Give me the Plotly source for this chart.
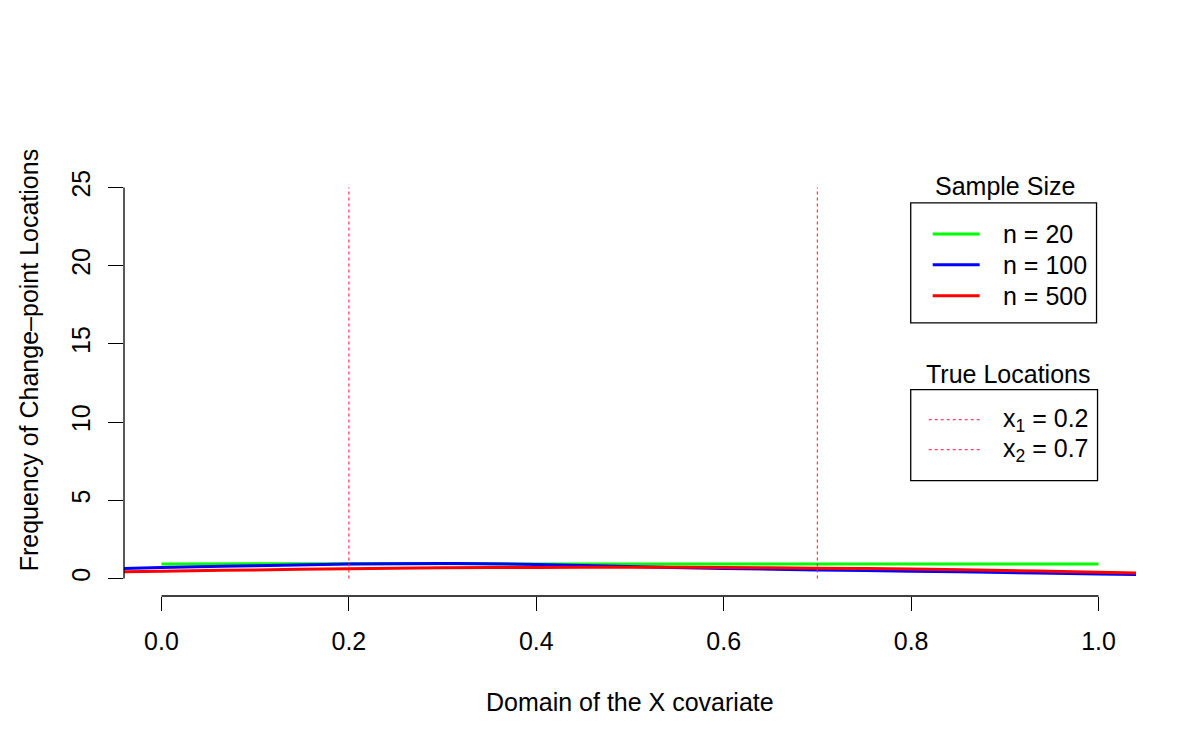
import plotly.graph_objects as go

# ---- data ----
x_grid = [-0.04, 0.0, 0.1, 0.2, 0.3, 0.4, 0.5, 0.6, 0.7, 0.8, 0.9, 1.0, 1.04]
n100 = [0.64, 0.70, 0.82, 0.92, 0.96, 0.90, 0.76, 0.64, 0.55, 0.47, 0.38, 0.29, 0.25]
n500 = [0.43, 0.46, 0.55, 0.63, 0.68, 0.71, 0.72, 0.70, 0.66, 0.60, 0.51, 0.40, 0.35]
x_n20 = [0.0, 0.2, 0.4, 0.6, 0.8, 1.0]
n20 = [0.93, 0.94, 0.93, 0.92, 0.92, 0.92]
true_locs = [0.2, 0.7]
true_top = 25
series_names = ["n = 20", "n = 100", "n = 500"]
series_colors = ["#00ff00", "#0000ff", "#ff0000"]
loc_labels = ["x<sub>1</sub> = 0.2", "x<sub>2</sub> = 0.7"]
loc_color = "rgba(255,30,70,0.85)"
x_ticks = [0.0, 0.2, 0.4, 0.6, 0.8, 1.0]
x_ticklabels = ["0.0", "0.2", "0.4", "0.6", "0.8", "1.0"]
y_ticks = [0, 5, 10, 15, 20, 25]

# ---- layout geometry (pixels) ----
W, H = 1200, 750
L, R, T, B = 123.5, 1136.5, 123.0, 596.5
PW, PH = R - L, B - T
def px(X):
    return (X - L) / PW
def py(Y):
    return (B - Y) / PH

FONT = "Liberation Sans, Arial, Helvetica, sans-serif"
FS = 25

fig = go.Figure()
xs_list = [x_n20, x_grid, x_grid]
ys_list = [n20, n100, n500]
for name, col, xs, ys in zip(series_names, series_colors, xs_list, ys_list):
    fig.add_trace(go.Scatter(x=xs, y=ys, mode="lines", name=name,
                             line=dict(color=col, width=3, shape="spline"),
                             showlegend=False, hoverinfo="skip"))
for xv in true_locs:
    fig.add_trace(go.Scatter(x=[xv, xv], y=[0, true_top], mode="lines",
                             line=dict(color=loc_color, width=1.3, dash="dot"),
                             showlegend=False, hoverinfo="skip"))

shapes = []
# axis lines (R style: only across tick range)
shapes.append(dict(type="line", xref="x", yref="paper", x0=x_ticks[0], x1=x_ticks[-1],
                   y0=0, y1=0, line=dict(color="black", width=1.3)))
shapes.append(dict(type="line", xref="paper", yref="y", x0=0, x1=0,
                   y0=y_ticks[0], y1=y_ticks[-1], line=dict(color="black", width=1.3)))
# legend boxes
shapes.append(dict(type="rect", xref="paper", yref="paper", x0=px(911), x1=px(1097),
                   y0=py(323), y1=py(203), line=dict(color="black", width=1.3)))
shapes.append(dict(type="rect", xref="paper", yref="paper", x0=px(911), x1=px(1098),
                   y0=py(481), y1=py(390), line=dict(color="black", width=1.3)))

annotations = []
annotations.append(dict(text="Sample Size", xref="paper", yref="paper", x=px(1005), y=py(186),
                        showarrow=False, font=dict(family=FONT, size=FS, color="black"),
                        xanchor="center", yanchor="middle"))
annotations.append(dict(text="True Locations", xref="paper", yref="paper", x=px(1008), y=py(374),
                        showarrow=False, font=dict(family=FONT, size=FS, color="black"),
                        xanchor="center", yanchor="middle"))
for i, (name, col) in enumerate(zip(series_names, series_colors)):
    yy = 234 + i * 31
    shapes.append(dict(type="line", xref="paper", yref="paper", x0=px(933), x1=px(980),
                       y0=py(yy), y1=py(yy), line=dict(color=col, width=3)))
    annotations.append(dict(text=name, xref="paper", yref="paper", x=px(1001), y=py(yy),
                            showarrow=False, font=dict(family=FONT, size=FS, color="black"),
                            xanchor="left", yanchor="middle"))
for i, lab in enumerate(loc_labels):
    yy = 420 + i * 30
    shapes.append(dict(type="line", xref="paper", yref="paper", x0=px(929), x1=px(980),
                       y0=py(yy), y1=py(yy), line=dict(color=loc_color, width=1.3, dash="dot")))
    annotations.append(dict(text=lab, xref="paper", yref="paper", x=px(1001), y=py(yy),
                            showarrow=False, font=dict(family=FONT, size=FS, color="black"),
                            xanchor="left", yanchor="middle"))
annotations.append(dict(text="Domain of the X covariate", xref="paper", yref="paper",
                        x=0.5, y=py(703), showarrow=False,
                        font=dict(family=FONT, size=FS, color="black"),
                        xanchor="center", yanchor="middle"))
annotations.append(dict(text="Frequency of Change\u2013point Locations", xref="paper", yref="paper",
                        x=px(28), y=py(360), showarrow=False, textangle=-90,
                        font=dict(family=FONT, size=FS, color="black"),
                        xanchor="center", yanchor="middle"))

fig.update_layout(
    width=W, height=H,
    margin=dict(l=L, r=W - R, t=T, b=H - B, pad=0),
    paper_bgcolor="white", plot_bgcolor="white",
    font=dict(family=FONT, size=FS, color="black"),
    shapes=shapes, annotations=annotations,
    xaxis=dict(range=[-0.04, 1.04], showgrid=False, zeroline=False, showline=False,
               tickmode="array", tickvals=x_ticks, ticktext=x_ticklabels,
               ticks="outside", ticklen=14, tickwidth=1.3, tickcolor="black",
               ticklabelstandoff=9, tickfont=dict(family=FONT, size=FS, color="black")),
    yaxis=dict(range=[-1.12, 29.12], showgrid=False, zeroline=False, showline=False,
               tickmode="array", tickvals=y_ticks, ticktext=[str(v) for v in y_ticks],
               ticks="outside", ticklen=15, tickwidth=1.3, tickcolor="black", tickangle=-90,
               ticklabelstandoff=8, tickfont=dict(family=FONT, size=FS, color="black")),
    showlegend=False,
)

fig.write_html("out.html")
